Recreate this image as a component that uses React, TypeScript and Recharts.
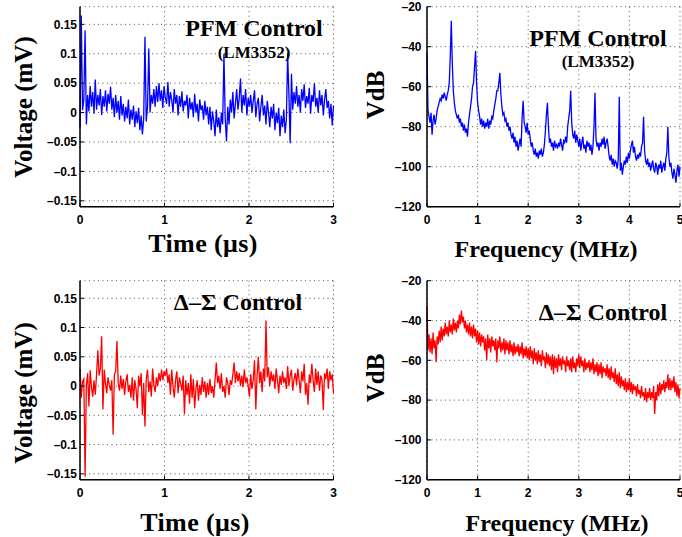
import React from "react";
import { LineChart, Line, XAxis, YAxis, CartesianGrid } from "recharts";

// PFM control (LM3352) output ripple, mV, sampled evenly over 0..3 us
const pfmRipple = [
  -0.026, 0.165, 0.004, 0.022, 0.14, -0.02, 0.03, 0.002, 0.045, 0.01, 0.035, -0.002, 0.056, 0.005, 0.03, 0.012, 0.04, -0.004, 0.028, 0.01, 0.038, 0.002, 0.032, 0.015, 0.044,
  0.005, 0.025, -0.008, 0.03, 0.0, 0.02, -0.012, 0.028, -0.005, 0.015, -0.015, 0.01, -0.01, 0.022, -0.02, 0.005, -0.012, 0.012, -0.025, 0.002, -0.018, 0.008, -0.03, -0.005, -0.037,
  -0.01, 0.129, -0.015, 0.01, 0.109, 0.0, 0.03, 0.015, 0.04, 0.01, 0.045,
  0.018, 0.05, 0.02, 0.038, 0.008, 0.045, 0.025, 0.015, 0.052, 0.01,
  0.035, 0.022, 0.0, 0.04, 0.015, 0.03, -0.005, 0.028, 0.01, 0.036,
  0.002, 0.02, 0.012, 0.03, -0.01, 0.025, 0.005, 0.018, -0.008, 0.032,
  0.0, 0.015, -0.015, 0.022, 0.004, 0.012, -0.012, 0.02, -0.005, 0.01,
  -0.02, 0.01, -0.03, 0.002, -0.015, -0.04, 0.005, -0.025, -0.008, -0.035, 0.0, -0.02,
  0.1, -0.01, -0.049,
  0.01, -0.02, 0.022, 0.0, 0.035, -0.01, 0.015, 0.04, 0.005, 0.025, 0.058, 0.0, 0.03, 0.012, 0.04, -0.005, 0.025, 0.01,
  0.03, 0.0, 0.02, 0.038, -0.008, 0.015, 0.025, -0.015, 0.01, 0.03, -0.005, 0.012, -0.02, 0.02, 0.0, -0.025, 0.01, -0.01, 0.015, -0.03, 0.0, -0.018, 0.008, -0.04, -0.005, -0.025, 0.005, -0.035, -0.012,
  0.1, 0.03, -0.052, 0.066,
  0.005, 0.035, 0.015, 0.045, 0.01, 0.03, 0.0, 0.04, 0.02, 0.048, 0.008, 0.028, 0.015, 0.042, -0.002, 0.03, 0.018, 0.05, 0.01, 0.025, 0.0, 0.038, 0.012, 0.03, -0.005, 0.022, 0.04, 0.008, 0.02, -0.01, 0.015, -0.022, 0.012,
];

// Delta-Sigma control output ripple, mV, 0..3 us
const dsRipple = [
  0.03, -0.02, 0.008, 0.012, -0.155, 0.002, 0.022, -0.035, 0.027, -0.002,
  -0.018, 0.01, -0.015, 0.02, 0.061, 0.018, 0.03, 0.085, -0.04, 0.028,
  0.005, -0.012, 0.015, 0.002, -0.008, 0.01, -0.083, 0.02, 0.025, 0.077,
  0.005, -0.008, 0.018, -0.005, 0.012, -0.015, 0.008, 0.02, -0.01, 0.002,
  -0.02, 0.015, -0.025, 0.01, -0.005, -0.038, 0.018, 0.0, 0.022, -0.05,
  0.005, -0.069, 0.012, 0.028, -0.01, 0.008, -0.018, 0.03, 0.002, -0.01,
  0.015, 0.0, 0.022, 0.008, 0.028, 0.01, 0.025, 0.018, 0.03, 0.005,
  0.02, -0.015, 0.028, 0.0, -0.02, 0.01, 0.025, -0.012, 0.015, 0.005,
  -0.008, 0.018, -0.048, 0.01, -0.015, 0.005, -0.03, 0.02, -0.02, 0.012,
  -0.038, -0.005, 0.01, -0.025, 0.002, -0.015, 0.015, -0.01, 0.008, -0.02,
  0.005, -0.015, 0.012, -0.012, 0.0, -0.02, 0.01, 0.04, 0.005, 0.018,
  -0.005, 0.022, -0.01, 0.0, -0.02, 0.015, 0.005, -0.015, 0.01, 0.002,
  0.02, 0.04, 0.005, 0.025, 0.008, 0.022, 0.0, 0.018, -0.002, 0.028,
  0.005, 0.015, 0.0, -0.018, 0.02, -0.005, 0.01, 0.044, -0.04, 0.018,
  0.05, 0.005, 0.025, -0.01, 0.03, 0.008, 0.112, 0.015, 0.032, 0.0,
  0.025, 0.008, 0.02, -0.005, 0.03, 0.01, -0.012, 0.018, 0.002, 0.025,
  0.005, 0.015, -0.005, 0.034, 0.0, 0.018, 0.028, -0.008, 0.012, 0.022,
  0.002, 0.03, 0.01, -0.012, 0.025, 0.008, 0.038, -0.015, 0.005, -0.032,
  0.02, 0.005, 0.038, 0.01, -0.01, 0.03, 0.002, 0.025, -0.008, 0.018,
  0.01, -0.041, 0.022, 0.012, 0.03, -0.005, 0.025, 0.01, 0.02, -0.012,
];

// PFM spectrum, dB, 0..5 MHz in 0.02 MHz steps
const pfmSpectrum = [
  -43, -72, -75, -78, -73, -84, -77, -74, -79, -76,
  -72, -70, -68, -66, -67, -64, -66, -63, -65, -67,
  -64, -62, -58, -45, -27, -48, -62, -68, -72, -74,
  -76, -74, -78, -76, -80, -78, -82, -79, -83, -81,
  -85, -78, -74, -70, -66, -60, -58, -50, -42, -58,
  -68, -72, -75, -79, -76, -80, -77, -81, -78, -80,
  -76, -81, -77, -79, -75, -76, -72, -69, -66, -62,
  -62, -58, -53, -64, -70, -74, -73, -77, -76, -80,
  -78, -82, -80, -84, -86, -83, -88, -85, -90, -87,
  -92, -89, -86, -90, -75, -67, -78, -80, -83, -78,
  -84, -82, -86, -90, -88, -92, -94, -91, -95, -93,
  -96, -92, -94, -91, -95, -93, -89, -82, -74, -68,
  -80, -88, -86, -90, -88, -92, -87, -90, -89, -91,
  -88, -90, -86, -89, -92, -87, -88, -85, -88, -80,
  -76, -72, -62, -78, -84, -86, -82, -88, -84, -87,
  -90, -86, -92, -88, -85, -91, -89, -93, -87, -90,
  -88, -92, -89, -94, -90, -80, -63, -86, -90, -88,
  -92, -88, -90, -86, -89, -85, -91, -88, -86, -90,
  -95, -97, -94, -99, -96, -100, -97, -98, -101, -96,
  -65, -102, -98, -104, -100, -97, -99, -95, -98, -93,
  -96, -92, -89, -87, -93, -90, -95, -97, -94, -96,
  -93, -95, -90, -88, -75, -92, -97, -99, -96, -100,
  -98, -102, -99, -97, -101, -103, -98, -100, -104, -99,
  -101, -97, -103, -100, -98, -102, -96, -93, -80, -95,
  -100, -98, -103, -106, -101, -104, -108, -102, -99, -105,
  -100,
];

// Delta-Sigma spectrum, dB, 0..5 MHz in 0.02 MHz steps
const dsSpectrum = [
  -33, -55, -47, -56, -49, -57, -46, -54, -50, -61,
  -48, -52, -45, -51, -43, -50, -44, -48, -41, -47,
  -43, -48, -40, -46, -42, -47, -39, -45, -41, -46,
  -40, -44, -37, -42, -35, -41, -38, -44, -40, -46,
  -42, -47, -41, -48, -43, -49, -42, -48, -44, -51,
  -45, -52, -46, -53, -47, -51, -48, -55, -49, -60,
  -47, -54, -49, -56, -48, -53, -50, -55, -49, -61,
  -50, -54, -48, -56, -51, -55, -49, -57, -50, -55,
  -51, -57, -50, -56, -52, -58, -51, -57, -53, -56,
  -52, -58, -53, -57, -51, -59, -54, -58, -53, -59,
  -54, -60, -53, -59, -55, -62, -54, -60, -56, -62,
  -55, -61, -57, -63, -55, -60, -58, -64, -56, -62,
  -57, -63, -58, -65, -57, -67, -58, -64, -59, -66,
  -57, -63, -59, -65, -58, -62, -60, -66, -58, -63,
  -60, -65, -59, -66, -58, -64, -61, -66, -59, -63,
  -57, -64, -58, -63, -60, -66, -59, -65, -61, -64,
  -60, -66, -61, -65, -59, -67, -62, -66, -61, -68,
  -62, -67, -61, -69, -63, -66, -64, -68, -62, -69,
  -64, -70, -63, -69, -66, -71, -64, -72, -67, -73,
  -66, -74, -68, -73, -70, -75, -69, -76, -71, -75,
  -69, -76, -71, -77, -72, -75, -73, -78, -72, -77,
  -75, -79, -73, -78, -76, -80, -74, -81, -76, -79,
  -74, -80, -76, -79, -73, -87, -76, -80, -72, -78,
  -71, -77, -72, -75, -70, -76, -71, -74, -67, -75,
  -69, -75, -70, -74, -68, -76, -71, -78, -72, -79,
  -74,
];

const timeTicks = [0, 1, 2, 3];
const voltTicks = [-0.15, -0.1, -0.05, 0, 0.05, 0.1, 0.15];
const freqTicks = [0, 1, 2, 3, 4, 5];
const dbTicks = [-120, -100, -80, -60, -40, -20];

// samples are evenly spaced across the x span
const toRows = (vals: number[], span: number) =>
  vals.map((v, i) => ({ x: (i * span) / (vals.length - 1), y: v }));

const tickFont = { fontFamily: "'Liberation Sans', Arial, sans-serif", fontWeight: 700, fontSize: 12, fill: "#000" };
const axisLine = { stroke: "#000", strokeWidth: 1.5 };
const tickLine = { stroke: "#000", strokeWidth: 1 };
const fmt = (v: number) => String(v).replace("-", "\u2013");

type PanelProps = {
  left: number; top: number; w: number; h: number;
  pl: number; pt: number; pw: number; ph: number;
  rows: { x: number; y: number }[]; color: string;
  xMax: number; xTicks: number[]; yDomain: [number, number]; yTicks: number[];
  yGap: number;
};

function Panel(p: PanelProps) {
  return (
    <div style={{ position: "absolute", left: p.left, top: p.top }}>
      <LineChart width={p.w} height={p.h} data={p.rows}
        margin={{ top: p.pt, right: p.w - p.pl - p.pw, left: 0, bottom: 0 }}>
        <CartesianGrid stroke="#555" strokeDasharray="1 3.5" />
        <XAxis dataKey="x" type="number" domain={[0, p.xMax]} ticks={p.xTicks} interval={0}
          height={p.h - p.pt - p.ph} tickSize={-4} tickMargin={12.3}
          tick={tickFont} axisLine={axisLine} tickLine={tickLine} />
        <XAxis xAxisId="top" orientation="top" dataKey="x" type="number" domain={[0, p.xMax]}
          ticks={p.xTicks} interval={0} height={0} tickSize={-4} tick={false}
          axisLine={axisLine} tickLine={tickLine} />
        <YAxis type="number" domain={p.yDomain} ticks={p.yTicks} interval={0} width={p.pl}
          tickSize={-4} tickMargin={p.yGap} tickFormatter={fmt}
          tick={tickFont} axisLine={axisLine} tickLine={tickLine} />
        <YAxis yAxisId="right" orientation="right" type="number" domain={p.yDomain}
          ticks={p.yTicks} interval={0} width={0} tickSize={-4} tick={false}
          axisLine={axisLine} tickLine={tickLine} />
        <Line dataKey="y" type="linear" stroke={p.color} strokeWidth={1.3} dot={false}
          isAnimationActive={false} />
      </LineChart>
    </div>
  );
}

const serif = "'Liberation Serif', 'Times New Roman', serif";

export default function App() {
  return (
    <div style={{ position: "absolute", left: 0, top: 0, width: 682, height: 537, background: "#fff" }}>
      <Panel left={0} top={0} w={341} h={230} pl={80} pt={6.7} pw={253.5} ph={200}
        rows={toRows(pfmRipple, 3)} color="#0000ff" xMax={3} xTicks={timeTicks}
        yDomain={[-0.16, 0.18]} yTicks={voltTicks} yGap={7} />
      <Panel left={341} top={0} w={341} h={230} pl={86} pt={6.7} pw={253} ph={200}
        rows={toRows(pfmSpectrum, 5)} color="#0000ff" xMax={5} xTicks={freqTicks}
        yDomain={[-120, -20]} yTicks={dbTicks} yGap={9.5} />
      <Panel left={0} top={268} w={341} h={240} pl={80} pt={12.7} pw={253.5} ph={199}
        rows={toRows(dsRipple, 3)} color="#ff0000" xMax={3} xTicks={timeTicks}
        yDomain={[-0.16, 0.18]} yTicks={voltTicks} yGap={7} />
      <Panel left={341} top={268} w={341} h={240} pl={86} pt={12.7} pw={253} ph={199}
        rows={toRows(dsSpectrum, 5)} color="#ff0000" xMax={5} xTicks={freqTicks}
        yDomain={[-120, -20]} yTicks={dbTicks} yGap={9.5} />

      <svg width={682} height={537} style={{ position: "absolute", left: 0, top: 0, pointerEvents: "none" }}
        fontFamily={serif} fontWeight={700} fill="#000">
        <text x={254} y={36} fontSize={24} textAnchor="middle">PFM Control</text>
        <text x={254} y={58} fontSize={17} textAnchor="middle">(LM3352)</text>
        <text x={598} y={46} fontSize={24} textAnchor="middle">PFM Control</text>
        <text x={598} y={67} fontSize={17} textAnchor="middle">(LM3352)</text>
        <text x={238} y={310} fontSize={24} textAnchor="middle">Δ–Σ Control</text>
        <text x={603} y={320} fontSize={24} textAnchor="middle">Δ–Σ Control</text>

        <text x={203} y={252} fontSize={26} letterSpacing={0.4} textAnchor="middle">Time (μs)</text>
        <text x={195} y={531} fontSize={26} letterSpacing={0.4} textAnchor="middle">Time (μs)</text>
        <text x={546} y={257} fontSize={24} textAnchor="middle">Frequency (MHz)</text>
        <text x={557} y={531} fontSize={24} textAnchor="middle">Frequency (MHz)</text>

        <text transform="translate(32,107) rotate(-90)" fontSize={25} textAnchor="middle">Voltage (mV)</text>
        <text transform="translate(32,393) rotate(-90)" fontSize={25} textAnchor="middle">Voltage (mV)</text>
        <text transform="translate(384,95) rotate(-90)" fontSize={25} textAnchor="middle">VdB</text>
        <text transform="translate(384,378) rotate(-90)" fontSize={25} textAnchor="middle">VdB</text>
      </svg>
    </div>
  );
}
